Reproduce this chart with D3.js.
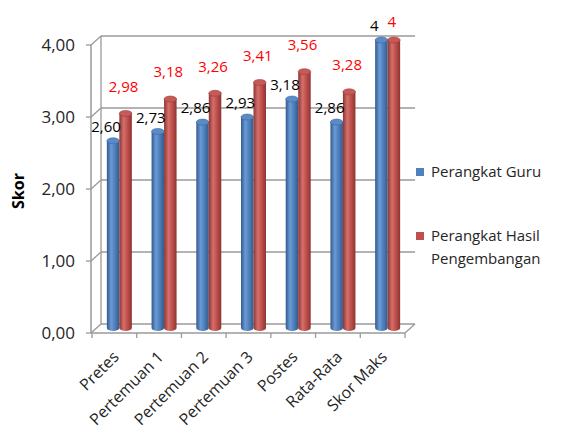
<!DOCTYPE html>
<html>
<head>
<meta charset="utf-8">
<script src="https://cdn.jsdelivr.net/npm/d3@7"></script>
<style>
  html, body { margin: 0; padding: 0; background: #fff; }
  svg { display: block; font-family: "Open Sans", "Noto Sans", sans-serif; }
</style>
</head>
<body>
<svg id="chart" width="561" height="430"></svg>
<script>
// Scores per session
const categories = ["Pretes", "Pertemuan 1", "Pertemuan 2", "Pertemuan 3", "Postes", "Rata-Rata", "Skor Maks"];
const guruValues = [2.60, 2.73, 2.86, 2.93, 3.18, 2.86, 4];
const hasilValues = [2.98, 3.18, 3.26, 3.41, 3.56, 3.28, 4];
const guruLabels = ["2,60", "2,73", "2,86", "2,93", "3,18", "2,86", "4"];
const hasilLabels = ["2,98", "3,18", "3,26", "3,41", "3,56", "3,28", "4"];
const yTicks = [0, 1, 2, 3, 4];
const yTickLabels = ["0,00", "1,00", "2,00", "3,00", "4,00"];
const seriesNames = ["Perangkat Guru", "Perangkat Hasil Pengembangan"];

const svg = d3.select("#chart");

// front axis geometry, plus the depth offset of the back wall
const depthX = 9, depthY = -9;
const x = d3.scaleBand().domain(categories).range([92, 405]);
const y = d3.scaleLinear().domain([0, 4]).range([333, 45]);
const gridColor = "#9a9a9a";

// colour gradients for the cylinders
const defs = svg.append("defs");
function cylGrad(id, dark, mid, light) {
  const g = defs.append("linearGradient").attr("id", id)
    .attr("x1", "0%").attr("x2", "100%").attr("y1", "0%").attr("y2", "0%");
  g.append("stop").attr("offset", "0%").attr("stop-color", dark);
  g.append("stop").attr("offset", "35%").attr("stop-color", light);
  g.append("stop").attr("offset", "70%").attr("stop-color", mid);
  g.append("stop").attr("offset", "100%").attr("stop-color", dark);
}
cylGrad("gBlue", "#34598a", "#4a7ab5", "#6a9bd6");
cylGrad("gRed", "#8c3533", "#b94a47", "#d56f6b");

// back-wall gridlines with their side-wall connectors
const grid = svg.append("g");
yTicks.forEach(t => {
  const yy = y(t);
  grid.append("line")
    .attr("x1", x.range()[0] + depthX).attr("x2", x.range()[1] + depthX + 1)
    .attr("y1", yy + depthY).attr("y2", yy + depthY)
    .attr("stroke", gridColor).attr("stroke-width", 1.5);
  grid.append("line")
    .attr("x1", x.range()[0] - 1).attr("x2", x.range()[0] + depthX)
    .attr("y1", yy).attr("y2", yy + depthY)
    .attr("stroke", gridColor).attr("stroke-width", 1.3);
  grid.append("line")
    .attr("x1", x.range()[0] - 6).attr("x2", x.range()[0] - 1)
    .attr("y1", yy).attr("y2", yy)
    .attr("stroke", gridColor).attr("stroke-width", 1.3);
});
// back wall left edge
grid.append("line")
  .attr("x1", x.range()[0] + depthX).attr("x2", x.range()[0] + depthX)
  .attr("y1", y(4) + depthY).attr("y2", y(0) + depthY)
  .attr("stroke", gridColor).attr("stroke-width", 1.3);
// vertical value axis
grid.append("line")
  .attr("x1", x.range()[0] - 1).attr("x2", x.range()[0] - 1)
  .attr("y1", y(4)).attr("y2", y(0))
  .attr("stroke", gridColor).attr("stroke-width", 1.5);

// floor: front edge, right edge and category ticks
grid.append("line")
  .attr("x1", x.range()[0] - 1).attr("x2", x.range()[1])
  .attr("y1", y(0)).attr("y2", y(0))
  .attr("stroke", gridColor).attr("stroke-width", 1.5);
grid.append("line")
  .attr("x1", x.range()[1]).attr("x2", x.range()[1] + depthX + 1)
  .attr("y1", y(0)).attr("y2", y(0) + depthY)
  .attr("stroke", gridColor).attr("stroke-width", 1.3);
const bounds = categories.map(c => x(c)).concat([x.range()[1]]);
bounds.forEach(bx => {
  grid.append("line")
    .attr("x1", bx).attr("x2", bx)
    .attr("y1", y(0)).attr("y2", y(0) + 5)
    .attr("stroke", gridColor).attr("stroke-width", 1.3);
});

// value-axis labels
svg.append("g").selectAll("text").data(yTicks).join("text")
  .attr("x", 75).attr("y", d => y(d)).attr("dy", "0.36em")
  .attr("text-anchor", "end").attr("font-size", 17).attr("fill", "#262626")
  .text((d, i) => yTickLabels[i]);

svg.append("text")
  .attr("transform", "translate(24,191) rotate(-90)")
  .attr("text-anchor", "middle").attr("font-size", 16).attr("font-weight", "bold")
  .attr("fill", "#000").text("Skor");

// category labels, rotated
svg.append("g").selectAll("text").data(categories).join("text")
  .attr("transform", d => `translate(${x(d) + x.bandwidth() / 2 + 1.5},${y(0) + 21}) rotate(-45)`)
  .attr("text-anchor", "end").attr("dy", "0.35em")
  .attr("font-size", 16).attr("fill", "#262626")
  .text(d => d);

// cylinders
const barW = 12.5;
const capRy = 3;
const barBase = y(0) - 5;
function yBar(v) { return y(v) - 5; }
function cylinder(g, cx, v, grad, capFill, edge) {
  const x0 = cx - barW / 2, x1 = cx + barW / 2, rx = barW / 2;
  const yt = yBar(v), yb = barBase;
  g.append("path")
    .attr("d", `M${x0},${yt} L${x0},${yb} A${rx},${capRy} 0 0 0 ${x1},${yb} L${x1},${yt} Z`)
    .attr("fill", `url(#${grad})`);
  g.append("ellipse")
    .attr("cx", cx).attr("cy", yt).attr("rx", rx).attr("ry", capRy)
    .attr("fill", capFill).attr("stroke", edge).attr("stroke-width", 0.6);
}

const bars = svg.append("g");
categories.forEach((c, i) => {
  const gc = x(c) + x.bandwidth() / 2 + 5;
  cylinder(bars, gc - barW / 2, guruValues[i], "gBlue", "#5a8bc8", "#3e669c");
  cylinder(bars, gc + barW / 2, hasilValues[i], "gRed", "#c95956", "#94403d");
});

// data labels
const labels = svg.append("g").attr("font-size", 15);
labels.selectAll("text.guru").data(guruValues).join("text")
  .attr("class", "guru")
  .attr("x", (d, i) => x(categories[i]) + x.bandwidth() / 2 + 5 - barW / 2 - 7)
  .attr("y", d => Math.max(yBar(d) - 14, 22)).attr("dy", "0.36em")
  .attr("text-anchor", "middle").attr("fill", "#000")
  .text((d, i) => guruLabels[i]);
labels.selectAll("text.hasil").data(hasilValues).join("text")
  .attr("class", "hasil")
  .attr("x", (d, i) => x(categories[i]) + x.bandwidth() / 2 + 5 + barW / 2 - 2)
  .attr("y", d => Math.max(yBar(d) - 27, 22)).attr("dy", "0.36em")
  .attr("text-anchor", "middle").attr("fill", "#ff0000")
  .text((d, i) => hasilLabels[i]);

// legend
const legend = svg.append("g").attr("font-size", 15).attr("fill", "#262626");
legend.append("rect").attr("x", 416).attr("y", 168).attr("width", 8).attr("height", 8).attr("fill", "#4f81bd");
legend.append("text").attr("x", 431).attr("y", 172).attr("dy", "0.35em").text(seriesNames[0]);
legend.append("rect").attr("x", 416).attr("y", 232).attr("width", 8).attr("height", 8).attr("fill", "#c0504d");
legend.append("text").attr("x", 431).attr("y", 236).attr("dy", "0.35em").text("Perangkat Hasil");
legend.append("text").attr("x", 431).attr("y", 259).attr("dy", "0.35em").text("Pengembangan");
</script>
</body>
</html>
